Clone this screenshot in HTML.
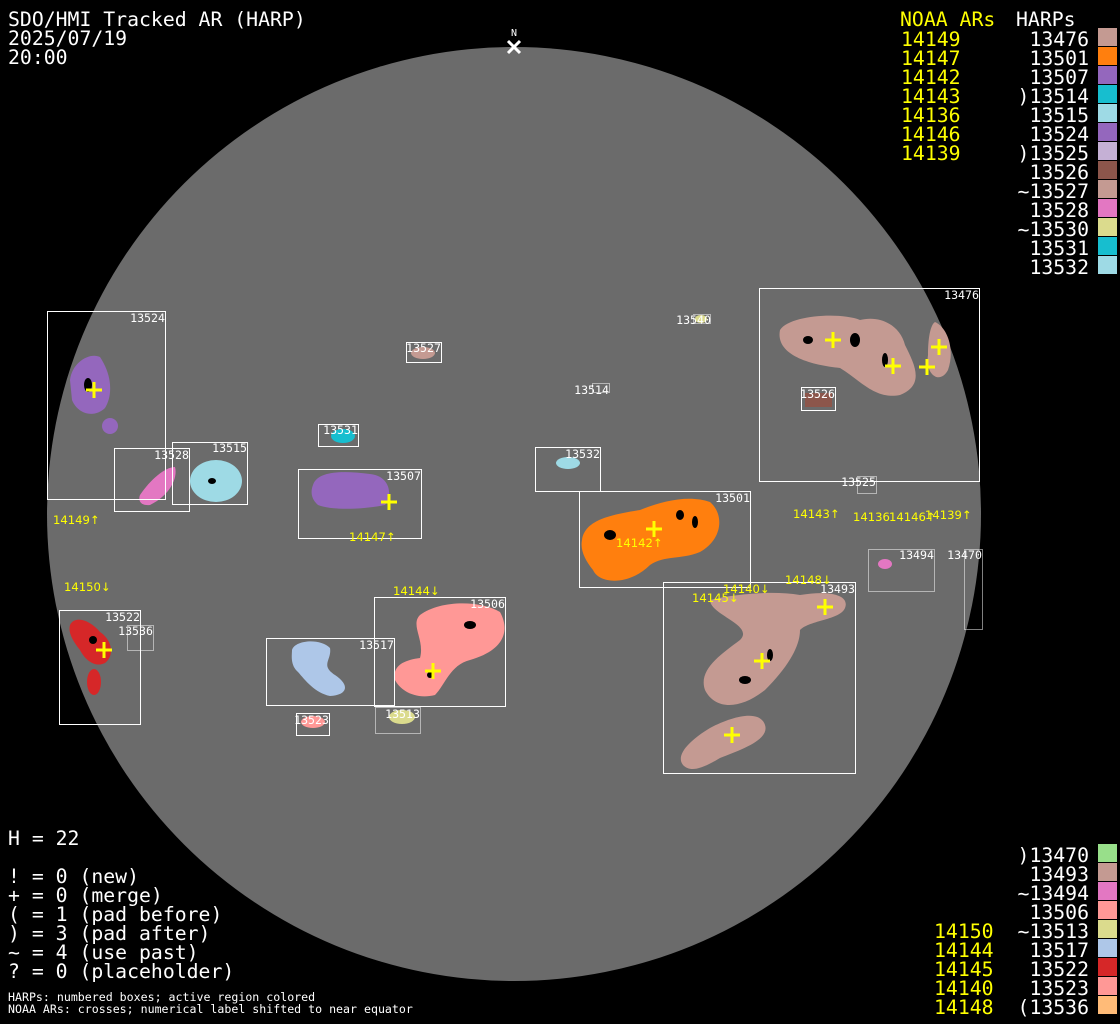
<!DOCTYPE html>
<html><head><style>html,body{margin:0;padding:0;background:#000;}svg{display:block}</style></head>
<body>
<svg width="1120" height="1024" viewBox="0 0 1120 1024" xmlns="http://www.w3.org/2000/svg" font-family="DejaVu Sans Mono, Liberation Mono, monospace">
<rect width="1120" height="1024" fill="#000"/>
<circle cx="514" cy="514" r="467" fill="#6b6b6b"/>
<text x="514" y="36" fill="#fff" font-size="10" text-anchor="middle">N</text>
<path d="M508 41 L520 53 M520 41 L508 53" stroke="#fff" stroke-width="3"/>

<g>
<path d="M780 330 C790 315 840 312 860 320 C880 315 900 325 905 345 C915 365 925 385 900 395 C875 400 860 380 840 368 C810 365 775 355 780 330Z" fill="#c49a92"/>
<path d="M935 322 C948 328 955 350 948 370 C940 385 925 375 928 355 C928 340 930 325 935 322Z" fill="#c49a92"/>
<path d="M805 393 L832 393 L832 407 L805 407Z" fill="#8c564b"/>
<path d="M70 380 C72 362 90 352 100 357 C112 375 113 395 105 408 C95 418 78 415 72 400Z" fill="#9467bd"/>
<ellipse cx="110" cy="426" rx="8" ry="8" fill="#9467bd"/>
<path d="M140 495 C150 480 165 467 175 467 C178 478 170 495 150 505 C140 506 138 500 140 495Z" fill="#e377c2"/>
<ellipse cx="216" cy="481" rx="26" ry="21" fill="#9edae5"/>
<ellipse cx="343" cy="436" rx="12" ry="7" fill="#17becf"/>
<path d="M313 485 C318 470 345 471 370 474 C390 476 393 495 385 505 C360 510 330 510 318 505 C310 498 311 490 313 485Z" fill="#9467bd"/>
<ellipse cx="423" cy="353" rx="12" ry="6" fill="#c49a92"/>
<ellipse cx="568" cy="463" rx="12" ry="6" fill="#9edae5"/>
<ellipse cx="701" cy="319" rx="6" ry="4" fill="#dbdb8d"/>
<path d="M582 540 C585 520 610 515 640 510 C665 500 690 495 710 502 C725 515 722 540 700 552 C680 560 665 555 650 565 C630 585 600 585 593 570 C585 560 580 550 582 540Z" fill="#ff7f0e"/>
<path d="M710 600 C730 595 770 590 800 595 C830 590 850 595 845 608 C840 620 810 620 800 630 C800 645 790 665 765 690 C740 710 715 710 705 690 C698 670 720 655 740 640 C755 625 710 615 710 600Z" fill="#c49a92"/>
<path d="M683 765 C675 755 690 740 710 728 C735 715 760 710 765 725 C770 740 740 750 720 758 C700 770 690 772 683 765Z" fill="#c49a92"/>
<ellipse cx="885" cy="564" rx="7" ry="5" fill="#e377c2"/>
<path d="M420 615 C440 600 480 600 500 612 C510 630 505 650 470 660 C450 665 445 685 435 695 C415 700 400 690 395 680 C392 665 405 660 420 658 C425 640 410 625 420 615Z" fill="#ff9896"/>
<path d="M292 650 C295 640 320 638 330 648 C332 660 320 665 335 675 C350 685 348 695 330 696 C315 693 305 680 298 672 C290 665 292 655 292 650Z" fill="#aec7e8"/>
<ellipse cx="402" cy="717" rx="13" ry="7" fill="#dbdb8d"/>
<ellipse cx="313" cy="722" rx="12" ry="6" fill="#ff9896"/>
<path d="M70 625 C75 615 90 620 100 632 C112 640 115 655 105 663 C95 668 85 660 80 650 C72 640 68 632 70 625Z" fill="#d62728"/>
<ellipse cx="94" cy="682" rx="7" ry="13" fill="#d62728"/>
</g>
<g fill="#000">
<ellipse cx="808" cy="340" rx="5" ry="4"/><ellipse cx="855" cy="340" rx="5" ry="7"/><ellipse cx="885" cy="360" rx="3" ry="7"/>
<ellipse cx="88" cy="385" rx="4" ry="7"/><ellipse cx="212" cy="481" rx="4" ry="3"/>
<ellipse cx="610" cy="535" rx="6" ry="5"/><ellipse cx="680" cy="515" rx="4" ry="5"/><ellipse cx="695" cy="522" rx="3" ry="6"/>
<ellipse cx="745" cy="680" rx="6" ry="4"/><ellipse cx="770" cy="655" rx="3" ry="6"/>
<ellipse cx="470" cy="625" rx="6" ry="4"/><ellipse cx="430" cy="675" rx="3" ry="3"/><ellipse cx="93" cy="640" rx="4" ry="4"/>
</g>
<g fill="none" stroke="#fff" stroke-width="1">
<rect x="759.5" y="288.5" width="220" height="193"/>
<rect x="47.5" y="311.5" width="118" height="188"/>
<rect x="406.5" y="342.5" width="35" height="20"/>
<rect x="801.5" y="387.5" width="34" height="23"/>
<rect x="318.5" y="424.5" width="40" height="22"/>
<rect x="172.5" y="442.5" width="75" height="62"/>
<rect x="114.5" y="448.5" width="75" height="63"/>
<rect x="298.5" y="469.5" width="123" height="69"/>
<rect x="535.5" y="447.5" width="65" height="44"/>
<rect x="579.5" y="491.5" width="171" height="96"/>
<rect x="663.5" y="582.5" width="192" height="191"/>
<rect x="374.5" y="597.5" width="131" height="109"/>
<rect x="59.5" y="610.5" width="81" height="114"/>
<rect x="266.5" y="638.5" width="128" height="67"/>
<rect x="296.5" y="713.5" width="33" height="22"/>
</g>
<g fill="none" stroke="#fff" stroke-width="1" stroke-dasharray="1,1">
<rect x="693.5" y="314.5" width="17" height="9"/>
<rect x="592.5" y="383.5" width="17" height="9"/>
<rect x="857.5" y="476.5" width="19" height="17"/>
<rect x="868.5" y="549.5" width="66" height="42"/>
<rect x="964.5" y="549.5" width="18" height="80"/>
<rect x="127.5" y="625.5" width="26" height="25"/>
<rect x="375.5" y="707.5" width="45" height="26"/>
</g>
<g fill="#fff" font-size="11.6" text-anchor="end">
<text x="979" y="299">13476</text><text x="165" y="322">13524</text><text x="441" y="352">13527</text>
<text x="711" y="324">13540</text><text x="609" y="394">13514</text><text x="835" y="398">13526</text>
<text x="358" y="434">13531</text><text x="247" y="452">13515</text><text x="189" y="459">13528</text>
<text x="421" y="480">13507</text><text x="600" y="458">13532</text><text x="876" y="486">13525</text>
<text x="750" y="502">13501</text><text x="934" y="559">13494</text><text x="982" y="559">13470</text>
<text x="855" y="593">13493</text><text x="505" y="608">13506</text><text x="140" y="621">13522</text>
<text x="153" y="635">13536</text><text x="394" y="649">13517</text><text x="329" y="724">13523</text><text x="420" y="718">13513</text>
</g>
<g stroke="#ff0" stroke-width="3">
<path d="M833 332v16M825 340h16"/><path d="M893 358v16M885 366h16"/><path d="M927 359v16M919 367h16"/><path d="M939 339v16M931 347h16"/>
<path d="M94 382v16M86 390h16"/><path d="M389 494v16M381 502h16"/><path d="M654 521v16M646 529h16"/>
<path d="M825 599v16M817 607h16"/><path d="M762 653v16M754 661h16"/><path d="M732 727v16M724 735h16"/>
<path d="M433 663v16M425 671h16"/><path d="M104 642v16M96 650h16"/>
</g>
<g fill="#ff0" font-size="11.6" font-family="DejaVu Sans, sans-serif">
<text x="53" y="524">14149↑</text><text x="349" y="541">14147↑</text><text x="616" y="547">14142↑</text>
<text x="793" y="518">14143↑</text><text x="853" y="521">14136</text><text x="889" y="521">14146↑</text><text x="925" y="519">14139↑</text>
<text x="64" y="591">14150↓</text><text x="393" y="595">14144↓</text><text x="723" y="593">14140↓</text>
<text x="692" y="602">14145↓</text><text x="785" y="584">14148↓</text>
</g>
<g fill="#fff" font-size="19.8">
<text x="8" y="26">SDO/HMI Tracked AR (HARP)</text><text x="8" y="45">2025/07/19</text><text x="8" y="64">20:00</text>
<text x="1016" y="26">HARPs</text>
<text x="8" y="845">H = 22</text>
<text x="8" y="883">! = 0 (new)</text><text x="8" y="902">+ = 0 (merge)</text><text x="8" y="921">( = 1 (pad before)</text>
<text x="8" y="940">) = 3 (pad after)</text><text x="8" y="959">~ = 4 (use past)</text><text x="8" y="978">? = 0 (placeholder)</text>
</g>
<g fill="#fff" font-size="11.6"><text x="8" y="1001">HARPs: numbered boxes; active region colored</text><text x="8" y="1013">NOAA ARs: crosses; numerical label shifted to near equator</text></g>
<g fill="#ff0" font-size="19.8">
<text x="900" y="26">NOAA ARs</text>
<text x="901" y="46">14149</text><text x="901" y="65">14147</text><text x="901" y="84">14142</text><text x="901" y="103">14143</text>
<text x="901" y="122">14136</text><text x="901" y="141">14146</text><text x="901" y="160">14139</text>
<text x="934" y="938">14150</text><text x="934" y="957">14144</text><text x="934" y="976">14145</text><text x="934" y="995">14140</text><text x="934" y="1014">14148</text>
</g>
<g fill="#fff" font-size="19.8" text-anchor="end">
<text x="1089" y="46">13476</text><text x="1089" y="65">13501</text><text x="1089" y="84">13507</text><text x="1089" y="103">)13514</text>
<text x="1089" y="122">13515</text><text x="1089" y="141">13524</text><text x="1089" y="160">)13525</text><text x="1089" y="179">13526</text>
<text x="1089" y="198">~13527</text><text x="1089" y="217">13528</text><text x="1089" y="236">~13530</text><text x="1089" y="255">13531</text><text x="1089" y="274">13532</text>
<text x="1089" y="862">)13470</text><text x="1089" y="881">13493</text><text x="1089" y="900">~13494</text><text x="1089" y="919">13506</text>
<text x="1089" y="938">~13513</text><text x="1089" y="957">13517</text><text x="1089" y="976">13522</text><text x="1089" y="995">13523</text><text x="1089" y="1014">(13536</text>
</g>
<g>
<rect x="1098" y="28" width="19" height="18" fill="#c49a92"/><rect x="1098" y="47" width="19" height="18" fill="#ff7f0e"/>
<rect x="1098" y="66" width="19" height="18" fill="#9467bd"/><rect x="1098" y="85" width="19" height="18" fill="#17becf"/>
<rect x="1098" y="104" width="19" height="18" fill="#9edae5"/><rect x="1098" y="123" width="19" height="18" fill="#9467bd"/>
<rect x="1098" y="142" width="19" height="18" fill="#c5b0d5"/><rect x="1098" y="161" width="19" height="18" fill="#8c564b"/>
<rect x="1098" y="180" width="19" height="18" fill="#c49a92"/><rect x="1098" y="199" width="19" height="18" fill="#e377c2"/>
<rect x="1098" y="218" width="19" height="18" fill="#dbdb8d"/><rect x="1098" y="237" width="19" height="18" fill="#17becf"/>
<rect x="1098" y="256" width="19" height="18" fill="#9edae5"/>
<rect x="1098" y="844" width="19" height="18" fill="#98df8a"/><rect x="1098" y="863" width="19" height="18" fill="#c49a92"/>
<rect x="1098" y="882" width="19" height="18" fill="#e377c2"/><rect x="1098" y="901" width="19" height="18" fill="#ff9896"/>
<rect x="1098" y="920" width="19" height="18" fill="#dbdb8d"/><rect x="1098" y="939" width="19" height="18" fill="#aec7e8"/>
<rect x="1098" y="958" width="19" height="18" fill="#d62728"/><rect x="1098" y="977" width="19" height="18" fill="#ff9896"/>
<rect x="1098" y="996" width="19" height="18" fill="#ffbb78"/>
</g>
</svg>
</body></html>
